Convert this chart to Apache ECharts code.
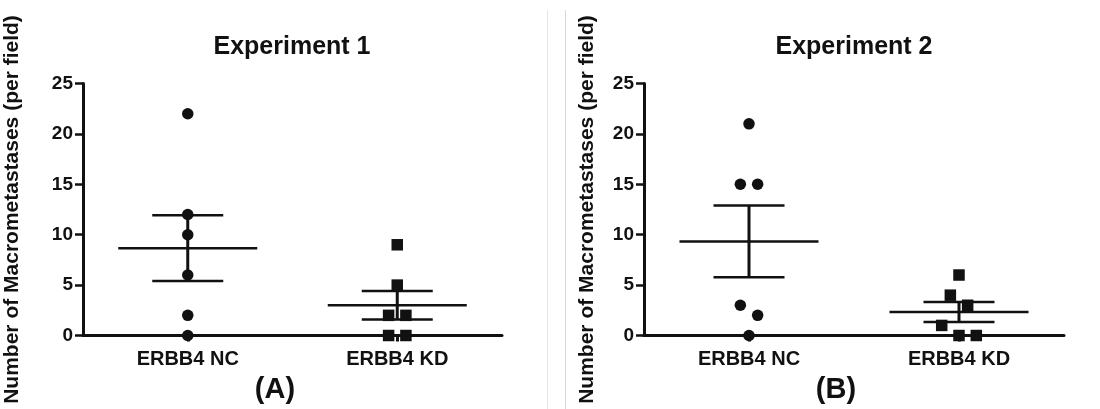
<!DOCTYPE html>
<html>
<head>
<meta charset="utf-8">
<script src="https://cdn.jsdelivr.net/npm/echarts@6/dist/echarts.min.js"></script>
<style>
  html, body { margin: 0; padding: 0; background: #fff; }
  #chart { width: 1100px; height: 409px; }
</style>
</head>
<body>
<div id="chart"></div>
<script>
// ---- data ----
const categories = ['ERBB4 NC', 'ERBB4 KD'];
const exp1NC = [22, 12, 10, 6, 2, 0];
const exp1KD = [9, 5, 2, 2, 0, 0];
const exp2NC = [21, 15, 15, 3, 2, 0];
const exp2KD = [6, 4, 3, 1, 0, 0];
const panelTitles = ['Experiment 1', 'Experiment 2'];
const panelLetters = ['(A)', '(B)'];
const yAxisTitle = 'Number of Macrometastases (per field)';
const yMin = 0, yMax = 25, yStep = 5;

// ---- helpers ----
const FONT = '"Liberation Sans", Arial, Helvetica, sans-serif';
const INK = '#111';

function mean(a) { return a.reduce((s, v) => s + v, 0) / a.length; }
function sem(a) {
  const m = mean(a);
  const sd = Math.sqrt(a.reduce((s, v) => s + (v - m) * (v - m), 0) / (a.length - 1));
  return sd / Math.sqrt(a.length);
}
// spread points whose values nearly collide (GraphPad-like): clusters of values
// differing by <= 1 are laid out side by side, centred on the category.
function spreadOffsets(values, spacing) {
  const idx = values.map((v, i) => i).sort((a, b) => values[b] - values[a]);
  const off = new Array(values.length).fill(0);
  let cluster = [idx[0]];
  const flush = () => {
    const n = cluster.length;
    cluster.forEach((k, j) => { off[k] = (j - (n - 1) / 2) * spacing; });
  };
  for (let i = 1; i < idx.length; i++) {
    if (values[cluster[cluster.length - 1]] - values[idx[i]] <= 1) cluster.push(idx[i]);
    else { flush(); cluster = [idx[i]]; }
  }
  flush();
  return off;
}
function pointData(values, xPos) {
  const off = spreadOffsets(values, 17.3);
  return values.map((v, i) => ({ value: [xPos, v], symbolOffset: [off[i], 0] }));
}
function statData(values, xPos) {
  const m = mean(values), s = sem(values);
  return [xPos, m, m - s, m + s];
}

const panels = [[exp1NC, exp1KD], [exp2NC, exp2KD]];
const grids = [
  { left: 83, top: 83.5, width: 419, height: 252 },
  { left: 644, top: 83.5, width: 420, height: 252 }
];
const nameGaps = [60, 46];

const xAxes = [], yAxes = [], series = [];
panels.forEach((groups, p) => {
  xAxes.push({
    type: 'value', gridIndex: p, min: 0.5, max: 2.5,
    splitLine: { show: false },
    axisLine: { show: true, onZero: false, lineStyle: { color: INK, width: 3 } },
    axisTick: { show: true, customValues: [1, 2], length: 6, lineStyle: { color: INK, width: 3 } },
    axisLabel: {
      show: true, customValues: [1, 2], margin: 14,
      formatter: v => categories[Math.round(v) - 1] || '',
      color: INK, fontFamily: FONT, fontWeight: 'bold', fontSize: 20
    }
  });
  yAxes.push({
    type: 'value', gridIndex: p, min: yMin, max: yMax, interval: yStep,
    splitLine: { show: false },
    axisLine: { show: true, lineStyle: { color: INK, width: 3 } },
    axisTick: { show: true, length: 8, lineStyle: { color: INK, width: 2.5 } },
    axisLabel: { color: INK, fontFamily: FONT, fontWeight: 'bold', fontSize: 19, margin: 10 },
    name: yAxisTitle, nameLocation: 'middle', nameGap: nameGaps[p], nameRotate: 90,
    nameTextStyle: { color: INK, fontFamily: FONT, fontWeight: 'bold', fontSize: 21 }
  });
  groups.forEach((vals, g) => {
    series.push({
      type: 'scatter', xAxisIndex: p, yAxisIndex: p, z: 5,
      symbol: g === 0 ? 'circle' : 'rect', symbolSize: 11.5,
      itemStyle: { color: INK, opacity: 1 },
      emphasis: { disabled: true },
      data: pointData(vals, g + 1)
    });
  });
  series.push({
    type: 'custom', xAxisIndex: p, yAxisIndex: p, z: 3, clip: false,
    data: groups.map((vals, g) => statData(vals, g + 1)),
    renderItem: function (params, api) {
      const c = api.coord([api.value(0), api.value(1)]);
      const lo = api.coord([api.value(0), api.value(2)]);
      const hi = api.coord([api.value(0), api.value(3)]);
      const st = { stroke: INK, lineWidth: 2.5 };
      return {
        type: 'group',
        children: [
          { type: 'line', shape: { x1: c[0] - 69.5, y1: c[1], x2: c[0] + 69.5, y2: c[1] }, style: st },
          { type: 'line', shape: { x1: c[0] - 35.5, y1: lo[1], x2: c[0] + 35.5, y2: lo[1] }, style: st },
          { type: 'line', shape: { x1: c[0] - 35.5, y1: hi[1], x2: c[0] + 35.5, y2: hi[1] }, style: st },
          { type: 'line', shape: { x1: c[0], y1: lo[1], x2: c[0], y2: hi[1] }, style: { stroke: INK, lineWidth: 3 } }
        ]
      };
    }
  });
});

const titleCenters = [292, 854];
const letterCenters = [275, 836];
const graphics = [
  { type: 'line', shape: { x1: 547.5, y1: 10, x2: 547.5, y2: 409 }, style: { stroke: '#e6e6e6', lineWidth: 1 } },
  { type: 'line', shape: { x1: 565.5, y1: 10, x2: 565.5, y2: 409 }, style: { stroke: '#d9d9d9', lineWidth: 1 } }
];
panelTitles.forEach((t, i) => graphics.push({
  type: 'text', x: titleCenters[i], y: 47,
  style: { text: t, fill: INK, font: 'bold 25px ' + FONT, textAlign: 'center', textVerticalAlign: 'middle' }
}));
panelLetters.forEach((t, i) => graphics.push({
  type: 'text', x: letterCenters[i], y: 390,
  style: { text: t, fill: INK, font: 'bold 29px ' + FONT, textAlign: 'center', textVerticalAlign: 'middle' }
}));

const chart = echarts.init(document.getElementById('chart'));
chart.setOption({
  backgroundColor: '#fff',
  animation: false,
  grid: grids.map(g => Object.assign({ containLabel: false }, g)),
  xAxis: xAxes,
  yAxis: yAxes,
  series: series,
  graphic: graphics
});
</script>
</body>
</html>
